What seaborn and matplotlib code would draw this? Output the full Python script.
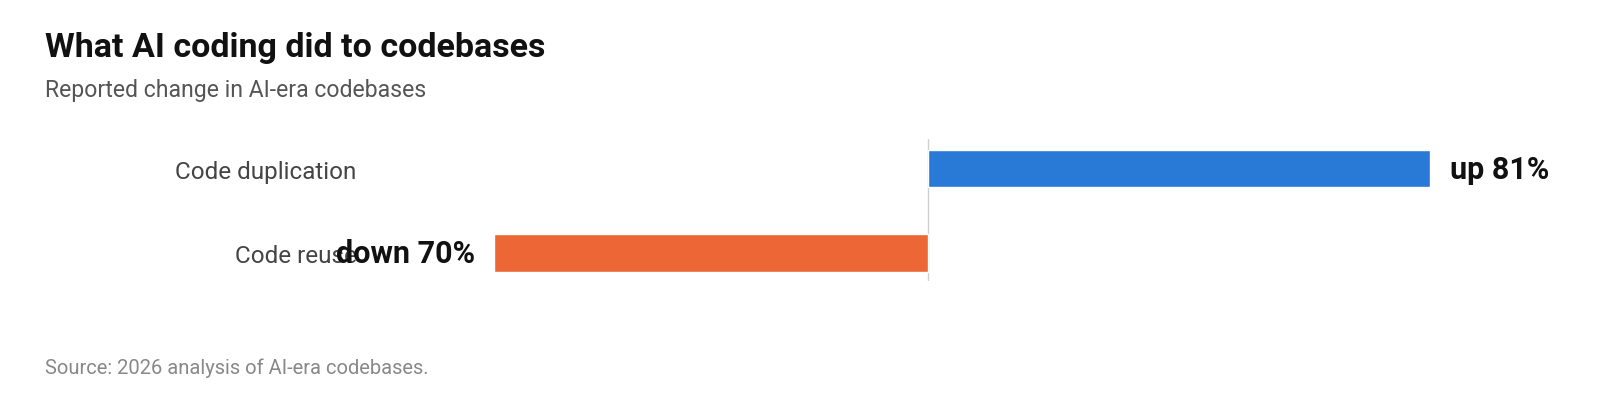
import matplotlib
matplotlib.use("Agg")
import matplotlib.pyplot as plt
import seaborn as sns

# Data
categories = ["Code duplication", "Code reuse"]
values = [81, -70]
value_labels = ["up 81%", "down 70%"]
bar_colors = ["#2979d6", "#ec6735"]

title = "What AI coding did to codebases"
subtitle = "Reported change in AI-era codebases"
source = "Source: 2026 analysis of AI-era codebases."

sns.set_theme(style="white")
plt.rcParams["font.family"] = ["Roboto", "DejaVu Sans"]

fig = plt.figure(figsize=(16, 4.1), dpi=100)
# axes placed so that zero sits at x~928px and bars line up with the reference
ax = fig.add_axes([0.23125, 0.3122, 0.73625, 0.3463])

sns.barplot(x=values, y=categories, hue=categories, palette=bar_colors,
            legend=False, orient="h", width=0.44, ax=ax, saturation=1)

ax.set_xlim(-90, 100)
ax.set_ylim(1.331, -0.349)
ax.axvline(0, color="#d0d0d0", lw=1, zorder=0)

for spine in ax.spines.values():
    spine.set_visible(False)
ax.set_xticks([])
ax.set_xlabel("")
ax.set_ylabel("")
ax.tick_params(axis="y", length=0, pad=9.5, labelsize=17.5, labelcolor="#444444")

# value labels at the bar ends
for i, (v, lab) in enumerate(zip(values, value_labels)):
    off = 14 if v > 0 else -14
    ax.annotate(lab, xy=(v, i), xytext=(off, 0), textcoords="offset points",
                ha="left" if v > 0 else "right", va="center",
                fontsize=22, fontweight="bold", color="#111111", zorder=5)

fig.text(0.028, 0.862, title, fontsize=24.5, fontweight="bold",
         color="#111111", va="baseline", ha="left")
fig.text(0.028, 0.764, subtitle, fontsize=16.6, color="#555555",
         va="baseline", ha="left")
fig.text(0.028, 0.088, source, fontsize=14.5, color="#888888",
         va="baseline", ha="left")

fig.savefig("out.png", dpi=100, facecolor="white")
